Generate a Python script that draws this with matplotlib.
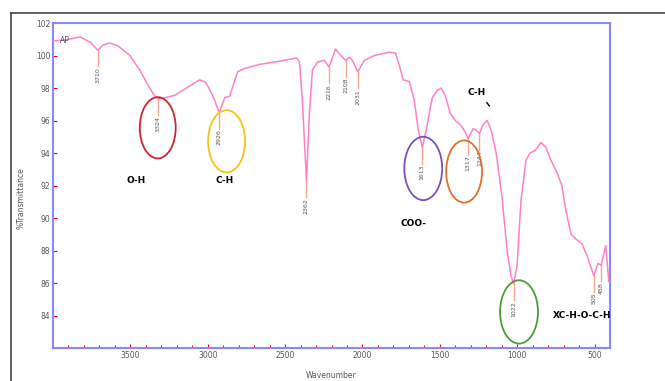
import numpy as np
import matplotlib.pyplot as plt
from matplotlib.patches import Ellipse
from matplotlib.lines import Line2D

# FTIR spectrum of sample AP (wavenumber in cm-1, %T)
wavenumber = [4000, 3923, 3826, 3761, 3710, 3678, 3632, 3581, 3503, 3439, 3387, 3342,
              3324, 3278, 3213, 3129, 3052, 3013, 2968, 2926, 2890, 2858, 2807, 2762,
              2665, 2536, 2426, 2407, 2388, 2362, 2342, 2323, 2291, 2246, 2216, 2194,
              2175, 2149, 2108, 2084, 2065, 2031, 1987, 1923, 1826, 1787, 1762, 1736,
              1697, 1665, 1639, 1613, 1588, 1549, 1517, 1491, 1465, 1433, 1400, 1368,
              1336, 1317, 1284, 1265, 1244, 1220, 1194, 1168, 1136, 1098, 1065, 1040,
              1022, 1001, 975, 943, 917, 885, 846, 814, 782, 743, 711, 685, 652, 620,
              581, 549, 505, 478, 458, 427, 408]
transmittance = [100.91, 100.95, 101.14, 100.83, 100.33, 100.64, 100.77, 100.6, 100.0,
                 99.1, 98.2, 97.5, 97.35, 97.4, 97.55, 98.05, 98.5, 98.35, 97.55, 96.5,
                 97.4, 97.5, 99.0, 99.2, 99.45, 99.65, 99.85, 99.6, 97.2, 92.3, 96.6,
                 99.1, 99.6, 99.7, 99.3, 99.85, 100.4, 100.1, 99.7, 99.9, 99.7, 99.0,
                 99.7, 100.0, 100.2, 100.15, 99.4, 98.5, 98.4, 97.25, 95.4, 94.35, 95.4,
                 97.4, 97.85, 98.0, 97.55, 96.45, 96.0, 95.75, 95.3, 94.9, 95.5, 95.4,
                 95.2, 95.75, 96.0, 95.4, 94.0, 91.3, 88.0, 86.45, 85.95, 87.05, 91.1,
                 93.55, 94.0, 94.15, 94.65, 94.35, 93.55, 92.8, 92.0, 90.45, 89.0, 88.7,
                 88.4, 87.7, 86.45, 87.2, 87.1, 88.3, 86.1]

# labelled peak positions
peaks = [3710, 3324, 2926, 2362, 2216, 2108, 2031, 1613, 1317, 1244, 1022, 505, 458]

# functional group assignments: (text, x, y)
groups = [("O-H", 3465, 92.3), ("C-H", 2891, 92.3), ("COO-", 1672, 89.65),
          ("C-H", 1259, 97.74), ("XC-H-O-C-H", 581, 83.98)]
# highlight ellipses: (x, y, width, height, colour)
rings = [(3323, 95.55, 232, 3.77, "#c8282e"),
         (2878, 94.72, 239, 3.83, "#f7c21a"),
         (1607, 93.05, 245, 3.9, "#7b4fb8"),
         (1343, 92.86, 232, 3.83, "#e0702a"),
         (988, 84.22, 245, 3.9, "#4f9a3a")]

wn = np.array(wavenumber)
tr = np.array(transmittance)

fig = plt.figure(figsize=(6.65, 3.81), dpi=100)
ax = fig.add_axes([53 / 665, 1 - 348 / 381, 557 / 665, 325 / 381])

ax.plot(wn, tr, color="#ff80c4", lw=1.1, zorder=3)
ax.text(3925, 100.9, "AP", fontsize=5.5, color="#555555", va="center", ha="center",
        zorder=4)

for p in peaks:
    t = np.interp(p, wn[::-1], tr[::-1])
    ax.plot([p, p], [t, t - 1.0], color="#f5a890", lw=1, zorder=2)
    ax.text(p, t - 1.05, str(p), rotation=90, fontsize=4.5, color="#555555",
            ha="center", va="top")

for x, y, w, h, c in rings:
    ax.add_patch(Ellipse((x, y), w, h, fill=False, ec=c, lw=1.3, zorder=5))

for txt, x, y in groups:
    ax.text(x, y, txt, fontsize=6.5, fontweight="bold", color="black",
            ha="center", va="center")
ax.plot([1196, 1180], [97.1, 96.9], color="black", lw=1)

ax.set_xlim(4000, 400)
ax.set_ylim(82, 102)
ax.set_xticks([3500, 3000, 2500, 2000, 1500, 1000, 500])
ax.set_xticks(np.arange(500, 4000, 100), minor=True)
ax.set_yticks(np.arange(82, 103, 2))
ax.set_yticklabels([""] + [str(v) for v in range(84, 103, 2)])
ax.tick_params(direction="in", colors="red", labelcolor="#555555", labelsize=5.5,
               length=3, width=0.8, pad=2)
ax.tick_params(which="minor", direction="in", colors="red", length=2, width=0.8)
for s in ax.spines.values():
    s.set_color("#8888ff")
    s.set_linewidth(1.5)

ax.set_xlabel("Wavenumber", fontsize=5.5, color="#555555", labelpad=8)
ax.set_ylabel("%Transmittance", fontsize=5.5, color="#555555", labelpad=6)
ax.yaxis.set_label_coords(-0.05, 0.46)

# outer frame
fig.add_artist(Line2D([11 / 665, 11 / 665], [0, 1 - 13 / 381], color="#444444", lw=1.2))
fig.add_artist(Line2D([11 / 665, 1], [1 - 13 / 381, 1 - 13 / 381], color="#444444", lw=1.2))

fig.savefig("out.png", dpi=100)
